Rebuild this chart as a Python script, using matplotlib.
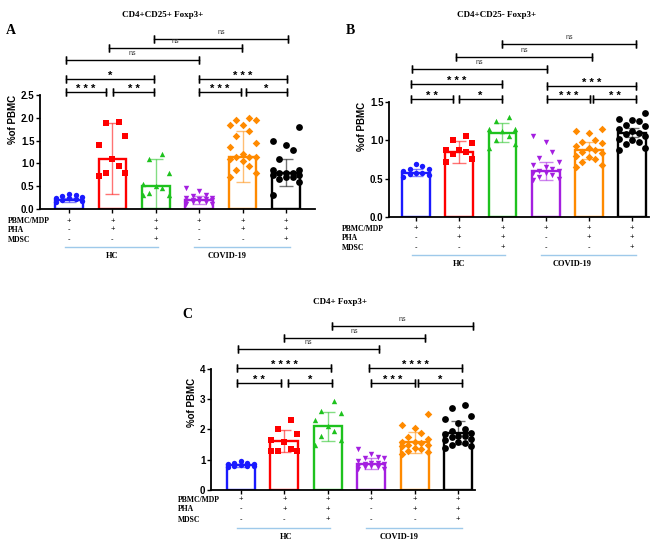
import numpy as np
import matplotlib
matplotlib.use("Agg")
import matplotlib.pyplot as plt
import matplotlib.transforms as mtransforms

W, H = 668, 543

# groups in every panel
conditions = ["PBMC/MDP", "PHA", "MDSC"]
signs = [["+", "-", "-"], ["+", "+", "-"], ["+", "+", "+"],
         ["+", "-", "-"], ["+", "+", "-"], ["+", "+", "+"]]
colors = ["#1a1aff", "#ff0000", "#1ec21e", "#a41fe0", "#ff8a00", "#000000"]
markers = ["o", "s", "^", "v", "D", "o"]

# Panel A: CD4+CD25+ Foxp3+
a_means = [0.20, 1.10, 0.50, 0.20, 1.15, 0.80]
a_sd = [0.05, 0.78, 0.60, 0.08, 0.55, 0.30]
a_points = [
    [0.28, 0.25, 0.30, 0.33, 0.20, 0.22, 0.18, 0.15, 0.27, 0.24],
    [1.90, 1.88, 1.60, 1.40, 1.10, 0.95, 0.80, 0.80, 0.72],
    [1.20, 1.10, 0.80, 0.55, 0.50, 0.45, 0.35, 0.30, 0.30],
    [0.45, 0.40, 0.30, 0.25, 0.22, 0.20, 0.20, 0.18, 0.15, 0.15, 0.12, 0.12, 0.18, 0.22, 0.25, 0.28],
    [2.00, 1.95, 1.95, 1.85, 1.85, 1.70, 1.60, 1.45, 1.35, 1.20, 1.15, 1.15, 1.15, 1.10, 1.05, 0.95, 0.85, 0.78, 0.70],
    [1.80, 1.50, 1.40, 1.30, 1.10, 0.85, 0.85, 0.80, 0.80, 0.80, 0.75, 0.75, 0.70, 0.70, 0.65, 0.60, 0.30],
]

# Panel B: CD4+CD25- Foxp3+
b_means = [0.58, 0.85, 1.10, 0.60, 0.87, 1.10]
b_sd = [0.05, 0.14, 0.12, 0.12, 0.11, 0.06]
b_points = [
    [0.69, 0.66, 0.63, 0.62, 0.60, 0.58, 0.57, 0.56, 0.55, 0.52],
    [1.06, 1.00, 0.97, 0.88, 0.87, 0.85, 0.82, 0.75, 0.72],
    [1.30, 1.25, 1.15, 1.15, 1.12, 1.05, 1.00, 0.95, 0.90],
    [1.05, 0.98, 0.85, 0.77, 0.72, 0.68, 0.65, 0.62, 0.60, 0.60, 0.58, 0.57, 0.55, 0.52, 0.50, 0.48],
    [1.15, 1.12, 1.10, 1.00, 0.98, 0.97, 0.93, 0.90, 0.88, 0.85, 0.83, 0.80, 0.78, 0.75, 0.72, 0.68, 0.65],
    [1.35, 1.28, 1.27, 1.25, 1.20, 1.18, 1.15, 1.12, 1.10, 1.08, 1.05, 1.02, 1.00, 0.98, 0.95, 0.90, 0.88],
]

# Panel C: CD4+ Foxp3+
c_means = [0.82, 1.62, 2.10, 0.87, 1.58, 1.90]
c_sd = [0.05, 0.35, 0.47, 0.18, 0.35, 0.38]
c_points = [
    [0.95, 0.90, 0.88, 0.87, 0.85, 0.82, 0.80, 0.80, 0.78, 0.77],
    [2.30, 2.00, 1.85, 1.65, 1.60, 1.35, 1.30, 1.30, 1.30],
    [2.95, 2.60, 2.55, 2.30, 2.10, 1.95, 1.80, 1.65, 1.50],
    [1.35, 1.20, 1.10, 1.05, 1.05, 0.95, 0.90, 0.85, 0.80, 0.80, 0.75, 0.70, 0.70, 0.75, 0.85, 0.90],
    [2.50, 2.15, 2.05, 1.90, 1.75, 1.70, 1.60, 1.55, 1.50, 1.45, 1.40, 1.35, 1.30, 1.25, 1.20, 1.60, 1.50],
    [2.80, 2.70, 2.45, 2.35, 2.20, 2.00, 1.95, 1.90, 1.85, 1.80, 1.80, 1.75, 1.70, 1.65, 1.60, 1.55, 1.50, 1.45, 1.40],
]

# significance brackets: (x1, x2, y, label)
a_brackets = [(-0.07, 0.85, 2.57, "***"), (1.01, 1.96, 2.57, "**"), (-0.07, 1.96, 2.85, "*"),
              (3.0, 3.96, 2.57, "***"), (4.08, 5.02, 2.57, "*"), (3.0, 5.02, 2.85, "***"),
              (-0.07, 3.0, 3.27, "ns"), (0.92, 3.99, 3.53, "ns"), (1.96, 5.05, 3.73, "ns")]
b_brackets = [(-0.12, 0.86, 1.54, "**"), (1.0, 1.99, 1.54, "*"), (-0.12, 1.99, 1.73, "***"),
              (3.03, 4.03, 1.54, "***"), (4.1, 5.1, 1.54, "**"), (3.03, 5.1, 1.71, "***"),
              (-0.1, 3.03, 1.93, "ns"), (0.93, 4.07, 2.09, "ns"), (1.99, 5.1, 2.26, "ns")]
c_brackets = [(-0.09, 0.92, 3.54, "**"), (1.08, 2.1, 3.54, "*"), (-0.09, 2.07, 4.03, "****"),
              (3.0, 4.0, 3.54, "***"), (4.08, 5.1, 3.54, "*"), (2.95, 5.1, 4.03, "****"),
              (-0.07, 3.18, 4.66, "ns"), (0.99, 4.24, 5.02, "ns"), (2.1, 5.35, 5.42, "ns")]

fig = plt.figure(figsize=(W / 100, H / 100), dpi=100)
serif = "Liberation Serif"
sans = "Liberation Sans"


def fy(py):
    return 1 - py / H


def panel(box, xlim, ylim, ytop, yticks, yfmt, means, sd, points, brackets,
          title, tpos, letter, lpos, rows, uline, groups):
    left, right, top, bottom = box
    ax = fig.add_axes([left / W, fy(bottom), (right - left) / W, (bottom - top) / H])
    x = np.arange(6)
    ax.bar(x, means, width=0.64, color="white", edgecolor=colors, linewidth=1.7, zorder=1)
    for i in range(6):
        pts = np.array(points[i])
        n = len(pts)
        order = np.argsort(pts)
        offs = np.zeros(n)
        pattern = [-0.3, 0.3, -0.15, 0.15, 0.0]
        for k, idx in enumerate(order):
            offs[idx] = pattern[k % 5]
        ms = 24 if i == 5 else 15
        ax.scatter(x[i] + offs, pts, marker=markers[i], s=ms, color=colors[i], zorder=3,
                   linewidths=0)
        ax.errorbar(x[i], means[i], yerr=sd[i], color=colors[i], alpha=0.55, capsize=5,
                    elinewidth=1.0, capthick=1.0, zorder=2)
    ax.set_xlim(*xlim)
    ax.set_ylim(*ylim)
    for s in ["top", "right"]:
        ax.spines[s].set_visible(False)
    ax.spines["left"].set_bounds(0, ytop)
    ax.spines["left"].set_linewidth(1.3)
    ax.spines["bottom"].set_linewidth(1.3)
    ax.set_yticks(yticks)
    ax.set_yticklabels([yfmt.format(v) for v in yticks], fontsize=7, fontweight="bold",
                       family=sans)
    ax.set_xticks(x)
    ax.set_xticklabels([])
    ax.tick_params(direction="out", length=3, width=1.0, pad=1)
    ax.set_ylabel("%of PBMC", fontsize=7, fontweight="bold", family=sans, labelpad=2)
    for x1, x2, y, lab in brackets:
        ax.plot([x1, x2], [y, y], color="black", lw=1.0, clip_on=False)
        ax.plot([x1, x1], [y, y], marker="|", ms=6, mew=1.0, color="black", clip_on=False)
        ax.plot([x2, x2], [y, y], marker="|", ms=6, mew=1.0, color="black", clip_on=False)
        if lab == "ns":
            ax.annotate(lab, ((x1 + x2) / 2, y), xytext=(0, 2), textcoords="offset points",
                        ha="center", va="bottom", fontsize=5, family=sans, color="#333333")
        else:
            ax.annotate(" ".join(lab), ((x1 + x2) / 2, y), xytext=(0, -1.5), textcoords="offset points",
                        ha="center", va="bottom", fontsize=8, fontweight="bold", family=sans)
    fig.text(tpos[0] / W, fy(tpos[1]), title, ha="center", va="center", family=serif,
             fontweight="bold", fontsize=6.5)
    fig.text(lpos[0] / W, fy(lpos[1]), letter, ha="center", va="center", family=serif,
             fontweight="bold", fontsize=10)
    tr = mtransforms.blended_transform_factory(ax.transData, fig.transFigure)
    labx, rys = rows
    for r, name in enumerate(conditions):
        fig.text(labx / W, fy(rys[r]), name, ha="left", va="center", family=serif,
                 fontweight="bold", fontsize=5.5)
        for i in range(6):
            ax.text(x[i], fy(rys[r]), signs[i][r], transform=tr, ha="center", va="center",
                    fontsize=5.5, family=sans, clip_on=False)
    uy, ly = uline
    for (x1, x2), (gx, name) in zip([(-0.1, 2.05), (2.88, 5.1)], groups):
        ax.plot([x1, x2], [fy(uy), fy(uy)], transform=tr, color="#9ec9ea", lw=1.0, clip_on=False)
        ax.text(gx, fy(ly), name, transform=tr, ha="center", va="center", family=serif,
                fontweight="bold", fontsize=6)
    return ax


panel((40, 315, 30, 209), (-0.668, 5.668), (0, 3.925), 2.5, [0, 0.5, 1.0, 1.5, 2.0, 2.5], "{:.1f}",
      a_means, a_sd, a_points, a_brackets, "CD4+CD25+ Foxp3+", (163, 15), "A", (11, 31),
      (8, [221, 230, 240]), (247, 256), [(1.0, "HC"), (3.65, "COVID-19")])
panel((389, 649, 35, 217), (-0.625, 5.39), (0, 2.373), 1.5, [0, 0.5, 1.0, 1.5], "{:.1f}",
      b_means, b_sd, b_points, b_brackets, "CD4+CD25- Foxp3+", (497, 15), "B", (350, 31),
      (342, [229, 238, 248]), (255, 264), [(1.0, "HC"), (3.6, "COVID-19")])
panel((211, 475, 315, 490), (-0.69, 5.39), (0, 5.785), 4, [0, 1, 2, 3, 4], "{:.0f}",
      c_means, c_sd, c_points, c_brackets, "CD4+ Foxp3+", (340, 302), "C", (187, 315),
      (178, [500, 509, 520]), (528, 537), [(1.05, "HC"), (3.65, "COVID-19")])

fig.savefig("out.png", dpi=100)
